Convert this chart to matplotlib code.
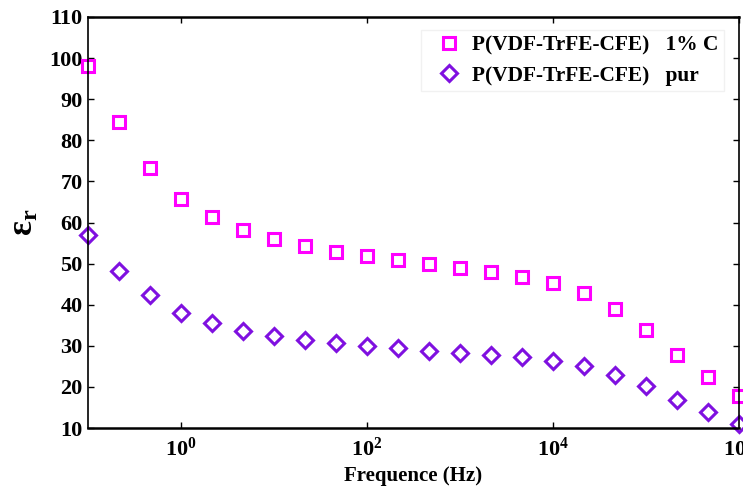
import matplotlib
matplotlib.use("Agg")
import matplotlib.pyplot as plt
from matplotlib.ticker import FixedLocator, NullLocator, LogFormatterMathtext

plt.rcParams['font.family'] = ['Liberation Serif', 'DejaVu Serif']
plt.rcParams['font.weight'] = 'bold'
plt.rcParams['mathtext.fontset'] = 'custom'
plt.rcParams['mathtext.rm'] = 'Liberation Serif:bold'
plt.rcParams['mathtext.it'] = 'Liberation Serif:bold'
plt.rcParams['mathtext.bf'] = 'Liberation Serif:bold'

freq = [0.1, 0.215, 0.464, 1, 2.15, 4.64, 10, 21.5, 46.4, 100, 215, 464,
        1000, 2150, 4640, 10000, 21500, 46400, 100000, 215000, 464000, 1000000]
eps_1pc = [98.1, 84.4, 73.3, 65.8, 61.3, 58.2, 56.1, 54.4, 52.75, 51.9, 50.9,
           49.9, 49.0, 48.0, 46.8, 45.2, 42.8, 39.0, 33.8, 27.8, 22.4, 17.9]
eps_pur = [57.0, 48.3, 42.4, 38.1, 35.5, 33.6, 32.4, 31.5, 30.7, 30.0, 29.5,
           28.7, 28.3, 27.7, 27.2, 26.2, 25.0, 23.0, 20.1, 16.8, 13.8, 10.9]
labels = ['P(VDF-TrFE-CFE)   1% C', 'P(VDF-TrFE-CFE)   pur']
xticks = [1, 100, 10000, 1000000]
yticks = list(range(10, 111, 10))

fig = plt.figure(figsize=(7.43, 4.87), dpi=100)
ax = fig.add_axes([88/743, 1-428/487, (739-88)/743, (428-17)/487])

ax.plot(freq, eps_1pc, linestyle='none', marker='s', markersize=8,
        markerfacecolor='white', markeredgecolor='#FF00FF', markeredgewidth=2.2,
        label=labels[0], clip_on=False)
ax.plot(freq, eps_pur, linestyle='none', marker='D', markersize=8,
        markerfacecolor='white', markeredgecolor='#7F10E0', markeredgewidth=2.2,
        label=labels[1], clip_on=False)

ax.set_xscale('log')
ax.set_xlim(0.1, 1e6)
ax.set_ylim(10, 110)
ax.xaxis.set_major_locator(FixedLocator(xticks))
ax.xaxis.set_major_formatter(LogFormatterMathtext())
ax.xaxis.set_minor_locator(NullLocator())
ax.set_yticks(yticks)
ax.tick_params(direction='in', top=True, right=True, length=4, width=1,
               labelsize=16, pad=4)
ax.tick_params(axis='x', pad=7)
for lab in ax.get_xticklabels() + ax.get_yticklabels():
    lab.set_fontweight('bold')
for s in ax.spines.values():
    s.set_linewidth(1.2)
ax.spines['top'].set_linewidth(1.8)
ax.spines['bottom'].set_linewidth(1.8)

ax.set_xlabel('Frequence (Hz)', fontsize=15, fontweight='bold', labelpad=4)
ax.set_ylabel(r'$\mathrm{\varepsilon}_{\mathrm{r}}$', fontsize=25, labelpad=6)

leg = ax.legend(loc='upper right', bbox_to_anchor=((724-88)/651, (428-30)/411),
                borderaxespad=0, fontsize=15.4,
                frameon=True, fancybox=False, edgecolor='#eeeeee',
                handletextpad=0.05, borderpad=0.25, labelspacing=0.48,
                handlelength=2.1)
for t in leg.get_texts():
    t.set_fontweight('bold')

fig.savefig('out.png', dpi=100)
